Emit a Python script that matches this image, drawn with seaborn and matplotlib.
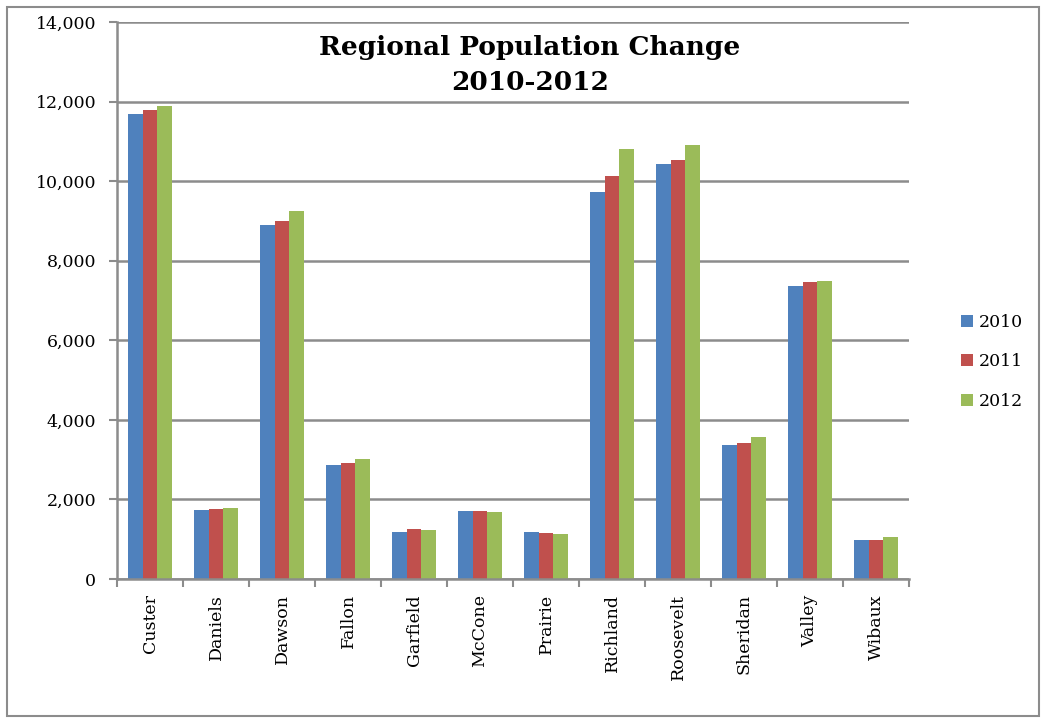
import matplotlib
matplotlib.use("Agg")
import matplotlib.pyplot as plt
import seaborn as sns
import pandas as pd
from matplotlib.patches import Rectangle
from matplotlib.ticker import FuncFormatter, FixedLocator

counties = ["Custer", "Daniels", "Dawson", "Fallon", "Garfield", "McCone",
            "Prairie", "Richland", "Roosevelt", "Sheridan", "Valley", "Wibaux"]
pop_2010 = [11700, 1740, 8900, 2870, 1180, 1720, 1180, 9730, 10440, 3360, 7370, 990]
pop_2011 = [11780, 1765, 9000, 2920, 1260, 1700, 1150, 10130, 10540, 3430, 7470, 970]
pop_2012 = [11880, 1775, 9250, 3010, 1240, 1685, 1140, 10800, 10910, 3560, 7490, 1050]
years = ["2010", "2011", "2012"]
colors = ["#4F81BD", "#C0504D", "#9BBB59"]

df = pd.DataFrame({
    "County": counties * 3,
    "Year": [y for y in years for _ in counties],
    "Population": pop_2010 + pop_2011 + pop_2012,
})

sns.set_theme(style="white")
plt.rcParams["font.family"] = ["DejaVu Serif"]
plt.rcParams["text.color"] = "black"
plt.rcParams["xtick.color"] = "black"
plt.rcParams["ytick.color"] = "black"

fig = plt.figure(figsize=(10.47, 7.19), dpi=100)
ax = fig.add_axes([117/1047, 1 - 579/719, (909-117)/1047, (579-22)/719])

sns.barplot(data=df, x="County", y="Population", hue="Year", palette=colors,
            width=0.66, ax=ax, saturation=1, edgecolor="none", linewidth=0)

ax.set_xlim(-0.5, len(counties) - 0.5)
ax.set_ylim(0, 14000)
ax.set_yticks(range(0, 14001, 2000))
ax.yaxis.set_major_formatter(FuncFormatter(lambda v, p: f"{int(v):,}"))
ax.grid(axis="y", color="#8c8c8c", linewidth=1.8)
ax.set_axisbelow(True)
ax.set_xlabel("")
ax.set_ylabel("")

ax.set_xticks(range(len(counties)))
ax.set_xticklabels(counties, rotation=90, fontsize=12.5)
ax.xaxis.set_minor_locator(FixedLocator([i - 0.5 for i in range(len(counties) + 1)]))
ax.tick_params(axis="x", which="major", length=0, pad=11, colors="black")
ax.tick_params(axis="x", which="minor", length=6, width=1.5, color="#8c8c8c", bottom=True)
ax.tick_params(axis="y", which="major", length=6, width=1.5, color="#8c8c8c", left=True,
               labelsize=12.5, pad=9, labelcolor="black")

for s in ["top", "right"]:
    ax.spines[s].set_visible(False)
for s in ["left", "bottom"]:
    ax.spines[s].set_color("#8c8c8c")
    ax.spines[s].set_linewidth(1.8)

fig.text(530/1047, 1 - 47/719, "Regional Population Change", ha="center", va="center",
         fontsize=19, fontweight="bold")
fig.text(530/1047, 1 - 83/719, "2010-2012", ha="center", va="center",
         fontsize=19, fontweight="bold")

leg = ax.legend(loc="center left", bbox_to_anchor=(1.046, 0.39), frameon=False,
                fontsize=12.5, handlelength=0.7, handleheight=0.7, labelspacing=1.3,
                handletextpad=0.35)

fig.patches.append(Rectangle((7/1047, 3/719), 1032/1047, 709/719, transform=fig.transFigure,
                             fill=False, edgecolor="#8c8c8c", linewidth=1.5))

fig.savefig("out.png", dpi=100)
